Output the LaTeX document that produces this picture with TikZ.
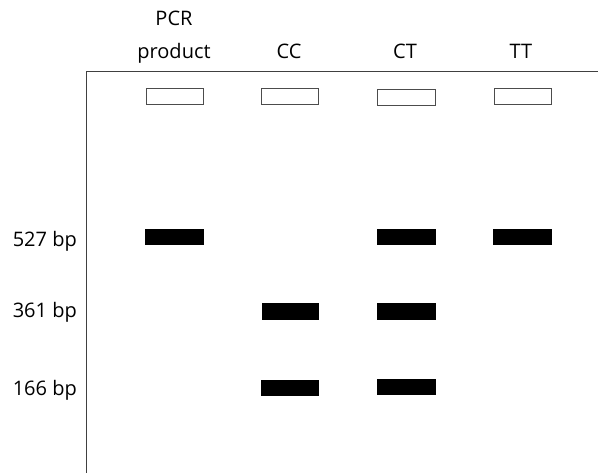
\documentclass[tikz,border=0pt]{standalone}
\usepackage{fontspec}
\setmainfont{Open Sans}
\begin{document}
\begin{tikzpicture}[x=1pt,y=-1pt,
  well/.style={draw=black!70,line width=1pt,fill=white},
  band/.style={fill=black,draw=none},
  axis/.style={draw=black!75,line width=1.4pt},
  lbl/.style={font=\fontsize{20}{24}\selectfont,inner sep=0pt,anchor=base}]
\useasboundingbox (0,0) rectangle (598,473);
% axes
\coordinate (top) at (86.5,71.5);
\coordinate (bot) at (86.5,473);
\coordinate (right) at (598,71.5);
\draw[axis] (bot) -- (top) -- (right);
% column labels
\node[lbl] (pcr) at (174,26) {PCR};
\node[lbl] (prod) at (174,59) {product};
\node[lbl] (cc) at (289,59) {CC};
\node[lbl] (ct) at (405,59) {CT};
\node[lbl] (tt) at (521,59) {TT};
% row labels
\node[lbl,anchor=base east] (b527) at (77,246.5) {527 bp};
\node[lbl,anchor=base east] (b361) at (77,318) {361 bp};
\node[lbl,anchor=base east] (b166) at (77,396) {166 bp};
% wells
\draw[well] (146,88.5) rectangle (203,104.5);
\draw[well] (261.5,88.5) rectangle (318.5,104.5);
\draw[well] (377.5,89.5) rectangle (435,105.5);
\draw[well] (494,88.5) rectangle (551,104.5);
% bands 527
\fill[band] (145,229) rectangle (203.5,245.5);
\fill[band] (377,229) rectangle (436,245.5);
\fill[band] (493,229) rectangle (552,245.5);
% bands 361
\fill[band] (262,303) rectangle (319,320.5);
\fill[band] (377,303) rectangle (435.5,320.5);
% bands 166
\fill[band] (261,380) rectangle (319,396.5);
\fill[band] (377,379) rectangle (436,395.5);
\end{tikzpicture}
\end{document}
